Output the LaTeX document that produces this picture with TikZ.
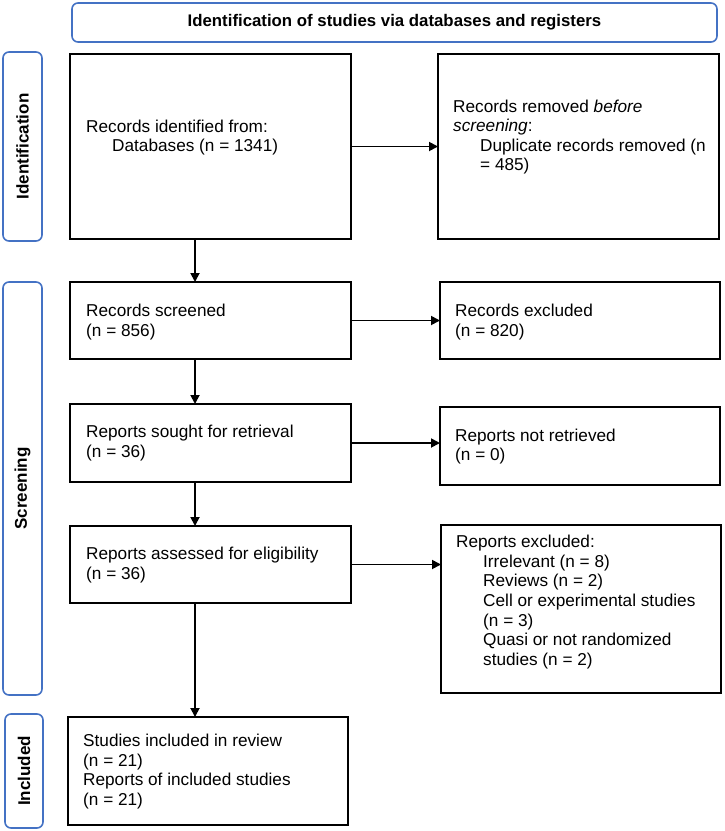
\documentclass[tikz,border=0pt]{standalone}
\usepackage{fontspec}
\setmainfont{Liberation Sans}
\usetikzlibrary{arrows.meta,calc}
\definecolor{pblue}{RGB}{68,114,196}
\begin{document}
\begin{tikzpicture}[x=1pt,y=-1pt,
  box/.style={draw=black,line width=1.9pt,inner sep=0pt,outer sep=0pt},
  sidebox/.style={draw=pblue,line width=1.6pt,rounded corners=6pt,inner sep=0pt,outer sep=0pt},
  txt/.style={inner sep=0pt,align=left,anchor=west,font=\fontsize{17.2}{19.6}\selectfont},
  sidetxt/.style={inner sep=0pt,rotate=90,font=\fontsize{17}{19}\selectfont\bfseries},
  arr/.style={line width=1.8pt,-{Triangle[length=9pt,width=9pt]}}
]
\useasboundingbox (0,0) rectangle (724,831);

% header
\node[sidebox,minimum width=645pt,minimum height=39pt] (hdr) at (394.5,22.5) {};
\node[inner sep=0pt,font=\fontsize{16.8}{19}\selectfont\bfseries] (hdrt) at (hdr) {Identification of studies via databases and registers};

% side boxes
\node[sidebox,minimum width=39pt,minimum height=189pt] (sI) at (22.5,146.5) {};
\node[sidetxt] (sIt) at (sI) {Identification};
\node[sidebox,minimum width=39pt,minimum height=413pt] (sS) at (22.5,488.5) {};
\node[sidetxt] (sSt) at (sS) {Screening};
\node[sidebox,minimum width=38pt,minimum height=114pt] (sN) at (24,771) {};
\node[sidetxt] (sNt) at (sN) {Included};

% boxes
\node[box,minimum width=281pt,minimum height=185pt] (b1) at (210.5,146.5) {};
\node[box,minimum width=281pt,minimum height=185pt] (b2) at (578.5,146.5) {};
\node[box,minimum width=281pt,minimum height=77pt] (b3) at (210.5,320.5) {};
\node[box,minimum width=280pt,minimum height=77pt] (b4) at (580,320.5) {};
\node[box,minimum width=281pt,minimum height=78pt] (b5) at (210.5,443) {};
\node[box,minimum width=280pt,minimum height=78pt] (b6) at (580,446) {};
\node[box,minimum width=281pt,minimum height=77pt] (b7) at (210.5,564.5) {};
\node[box,minimum width=280pt,minimum height=168pt] (b8) at (581,609) {};
\node[box,minimum width=280pt,minimum height=108pt] (b9) at (208,771) {};

% texts
\node[txt] (t1) at (86,137.5) {Records identified from:\\\hspace*{26pt}Databases (n = 1341)};
\node[txt] (t2) at (453,137) {Records removed \textit{before}\\\textit{screening}:\\\hspace*{27pt}Duplicate records removed (n\\\hspace*{27pt}= 485)};
\node[txt] (t3) at (86,322) {Records screened\\(n = 856)};
\node[txt] (t4) at (455,322) {Records excluded\\(n = 820)};
\node[txt] (t5) at (86,443) {Reports sought for retrieval\\(n = 36)};
\node[txt] (t6) at (455,446.5) {Reports not retrieved\\(n = 0)};
\node[txt] (t7) at (86,565) {Reports assessed for eligibility\\(n = 36)};
\node[txt] (t8) at (456,602) {Reports excluded:\\\hspace*{27pt}Irrelevant (n = 8)\\\hspace*{27pt}Reviews (n = 2)\\\hspace*{27pt}Cell or experimental studies\\\hspace*{27pt}(n = 3)\\\hspace*{27pt}Quasi or not randomized\\\hspace*{27pt}studies (n = 2)};
\node[txt] (t9) at (83,771.5) {Studies included in review\\(n = 21)\\Reports of included studies\\(n = 21)};

% arrows
\draw[arr] (b1.east) -- (b1.east -| b2.west);
\draw[arr] (b3.east) -- (b3.east -| b4.west);
\draw[arr] (b5.east) -- (b5.east -| b6.west);
\draw[arr] (b7.east) -- (b7.east -| b8.west);
\coordinate (vx) at (195,0);
\draw[arr] (vx |- b1.south) -- (vx |- b3.north);
\draw[arr] (vx |- b3.south) -- (vx |- b5.north);
\draw[arr] (vx |- b5.south) -- (vx |- b7.north);
\draw[arr] (vx |- b7.south) -- (vx |- b9.north);
\end{tikzpicture}
\end{document}
